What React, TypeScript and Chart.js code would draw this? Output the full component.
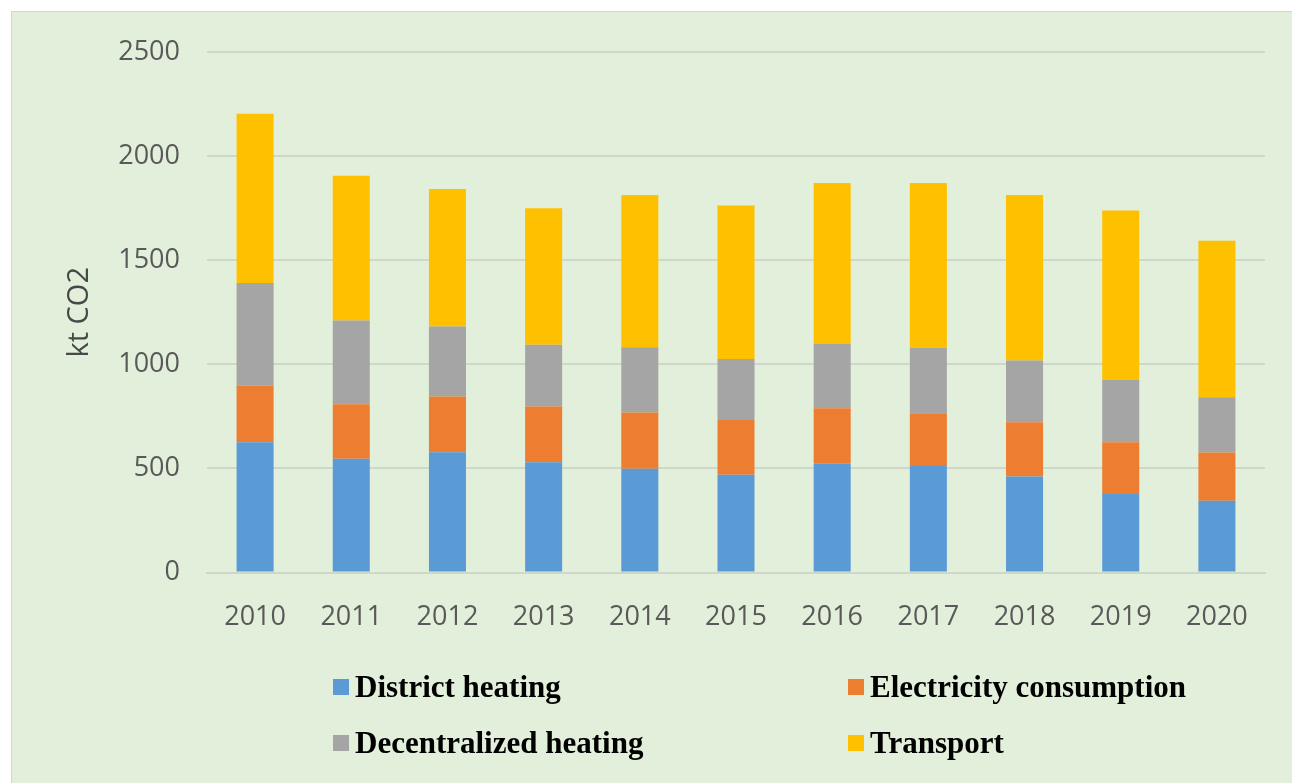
import React, { useEffect, useRef } from "react";
import { Chart, registerables } from "chart.js";

Chart.register(...registerables);

// ---- data ----
const years = ["2010", "2011", "2012", "2013", "2014", "2015", "2016", "2017", "2018", "2019", "2020"];
const districtHeating = [626, 546, 578, 530, 498, 469, 522, 512, 461, 377, 345];
const electricityConsumption = [272, 262, 267, 267, 270, 264, 267, 253, 261, 249, 231];
const decentralizedHeating = [492, 402, 337, 297, 314, 292, 309, 313, 296, 299, 266];
const transport = [814, 696, 660, 655, 731, 738, 773, 793, 795, 814, 751];
const yTickValues = [0, 500, 1000, 1500, 2000, 2500];
const seriesNames = ["District heating", "Electricity consumption", "Decentralized heating", "Transport"];
const seriesColors = ["#5B9BD5", "#ED7D31", "#A5A5A5", "#FFC000"];
const seriesValues = [districtHeating, electricityConsumption, decentralizedHeating, transport];
const yAxisTitle = "kt CO2";

const W = 1292;
const H = 783;
const AXIS_FONT = "'Open Sans', sans-serif";
const TEXT_GRAY = "#595959";
const GRID = "#CFD7CA";

export default function App() {
  const canvasRef = useRef<HTMLCanvasElement | null>(null);

  useEffect(() => {
    const canvas = canvasRef.current;
    if (!canvas) return;
    const chart = new Chart(canvas, {
      type: "bar",
      data: {
        labels: years,
        datasets: seriesNames.map((name, i) => ({
          label: name,
          data: seriesValues[i],
          backgroundColor: seriesColors[i],
          borderWidth: 0,
          barPercentage: 0.385,
          categoryPercentage: 1,
        })),
      },
      options: {
        responsive: false,
        animation: false,
        devicePixelRatio: 1,
        layout: { padding: { left: 0, right: 27, top: 52, bottom: 0 } },
        plugins: {
          legend: { display: false },
          tooltip: { enabled: false },
          title: { display: false },
        },
        scales: {
          x: {
            stacked: true,
            grid: { display: false, drawTicks: false },
            border: { display: true, color: GRID, width: 2 },
            ticks: {
              color: TEXT_GRAY,
              font: { family: AXIS_FONT, size: 27 },
              padding: 29,
              maxRotation: 0,
              autoSkip: false,
            },
            afterFit: (scale: any) => {
              scale.height = H - 572.5;
            },
          },
          y: {
            stacked: true,
            min: 0,
            max: 2500,
            afterBuildTicks: (scale: any) => {
              scale.ticks = yTickValues.map((v) => ({ value: v }));
            },
            grid: { color: GRID, lineWidth: 2, drawTicks: false },
            border: { display: false },
            ticks: {
              color: TEXT_GRAY,
              font: { family: AXIS_FONT, size: 27 },
              padding: 27,
              callback: (value: any) => String(value),
            },
            title: {
              display: true,
              text: yAxisTitle,
              color: "#484848",
              font: { family: AXIS_FONT, size: 29 },
              padding: { top: 62, bottom: 0 },
            },
            afterFit: (scale: any) => {
              scale.width = 207;
            },
          },
        },
      },
    });
    return () => chart.destroy();
  }, []);

  const legendCols = [333, 848];
  const legendRows = [687, 743];

  return (
    <div style={{ position: "absolute", left: 0, top: 0, width: W, height: H, background: "#FFFFFF", overflow: "hidden" }}>
      <div
        style={{
          position: "absolute",
          left: 11,
          top: 11,
          right: 0,
          bottom: 0,
          background: "#E2EFDA",
          borderTop: "1px solid #D4D4D4",
          borderLeft: "1px solid #D4D4D4",
        }}
      />
      <canvas
        ref={canvasRef}
        width={W}
        height={H}
        style={{ position: "absolute", left: 0, top: 0, width: W, height: H }}
      />
      {seriesNames.map((name, i) => (
        <div
          key={name}
          style={{
            position: "absolute",
            left: legendCols[i % 2],
            top: legendRows[Math.floor(i / 2)] - 20,
            height: 40,
            display: "flex",
            alignItems: "center",
            whiteSpace: "nowrap",
          }}
        >
          <span style={{ display: "inline-block", width: 16, height: 16, background: seriesColors[i], marginRight: 6 }} />
          <span
            style={{
              fontFamily: "'Liberation Serif', 'Times New Roman', serif",
              fontWeight: "bold",
              fontSize: 31,
              lineHeight: "40px",
              color: "#000000",
            }}
          >
            {name}
          </span>
        </div>
      ))}
    </div>
  );
}
